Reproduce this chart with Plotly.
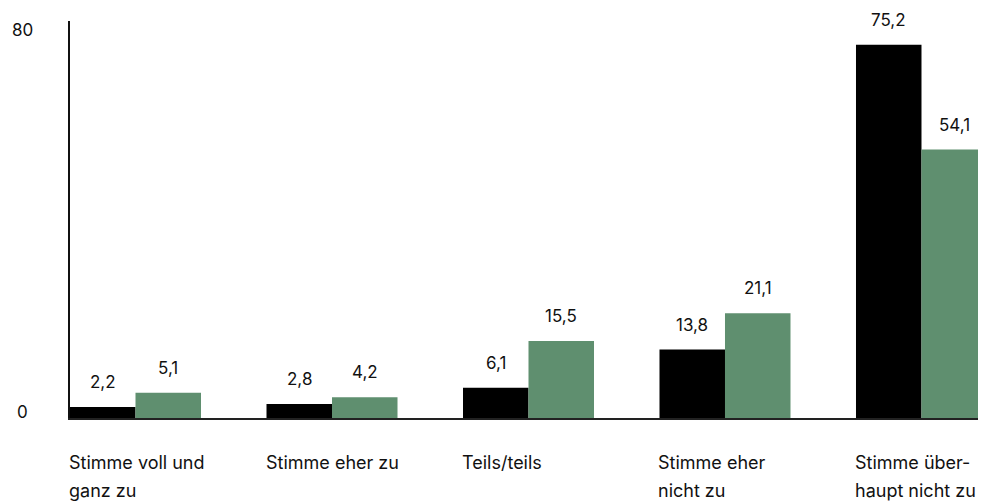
import plotly.graph_objects as go

categories = ["Stimme voll und<br>ganz zu", "Stimme eher zu", "Teils/teils",
              "Stimme eher<br>nicht zu", "Stimme über-<br>haupt nicht zu"]
series_a = [2.2, 2.8, 6.1, 13.8, 75.2]
series_b = [5.1, 4.2, 15.5, 21.1, 54.1]
y_ticks = [0, 80]
y_tick_labels = ["0", "80"]

FONT = "Inter"
TXT = "#111111"
BLACK = "#000000"
GREEN = "#5F8F6F"

idx = list(range(len(categories)))

fig = go.Figure()
fig.add_trace(go.Bar(x=idx, y=series_a, marker=dict(color=BLACK, line=dict(width=0)),
                     hoverinfo="skip", name="A"))
fig.add_trace(go.Bar(x=idx, y=series_b, marker=dict(color=GREEN, line=dict(width=0)),
                     hoverinfo="skip", name="B"))

def fmt(v):
    return f"{v:.1f}".replace(".", ",")

ann = []
for i in idx:
    for off, vals in ((-1/6, series_a), (1/6, series_b)):
        ann.append(dict(x=i + off, y=vals[i], xref="x", yref="y", text=fmt(vals[i]),
                        showarrow=False, yanchor="middle", yshift=25,
                        font=dict(family=FONT, size=17, color=TXT)))
    lines = categories[i].split("<br>")
    for k, line in enumerate(lines):
        ann.append(dict(x=i - 1/3, y=0, xref="x", yref="y", text=line, showarrow=False,
                        xanchor="left", yanchor="middle", xshift=-3, yshift=-44 - 28 * k,
                        font=dict(family=FONT, size=18, color=TXT)))

for v, lab in zip(y_ticks, y_tick_labels):
    shift = -9 if v > 0 else 6
    ann.append(dict(x=0, y=v, xref="paper", yref="y", text=lab, showarrow=False,
                    xanchor="center", yanchor="middle", xshift=-48, yshift=shift,
                    font=dict(family=FONT, size=17, color=TXT)))

fig.update_layout(
    width=986, height=493,
    margin=dict(l=62, r=0, t=13, b=83),
    paper_bgcolor="white", plot_bgcolor="white",
    barmode="group", bargap=1/3, bargroupgap=0,
    showlegend=False,
    annotations=ann,
    xaxis=dict(range=[-1/3, 4.369], showticklabels=False, ticks="", showgrid=False,
               zeroline=False, showline=True, linecolor="#222222", linewidth=1.5,
               fixedrange=True),
    yaxis=dict(range=[0, 80], showticklabels=False, ticks="", showgrid=False,
               zeroline=False, showline=True, linecolor="#111111", linewidth=1.5,
               fixedrange=True),
)

fig.write_html("out.html")
